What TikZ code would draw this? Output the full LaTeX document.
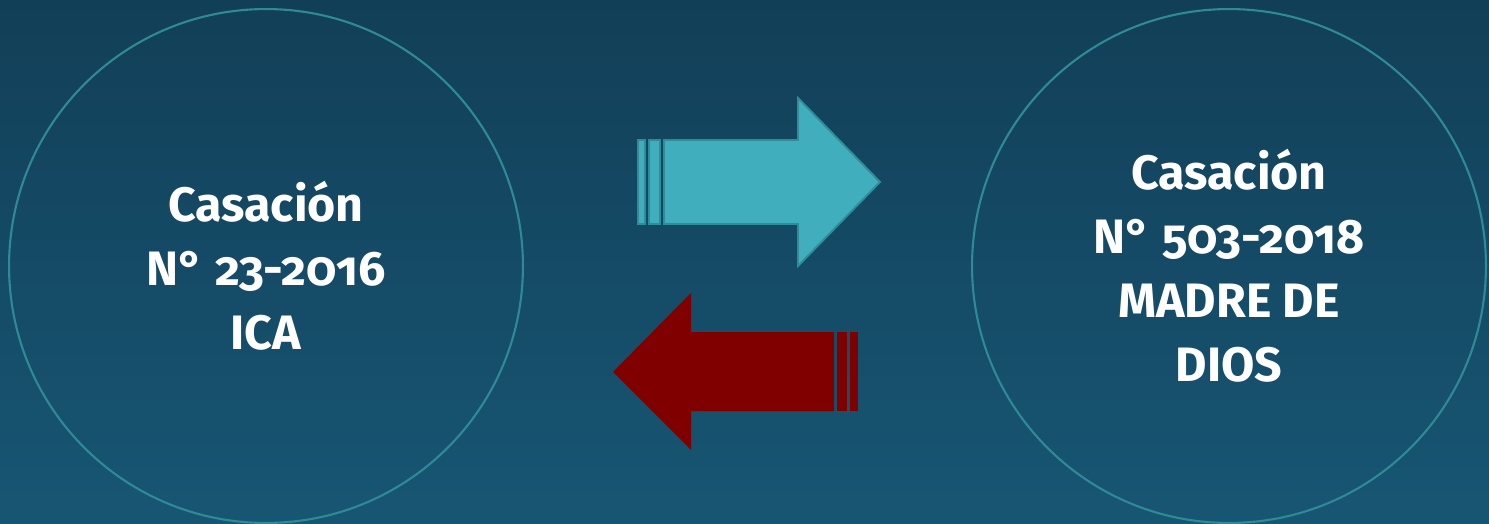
\documentclass[tikz,border=0pt]{standalone}
\usepackage{fontspec}
\setmainfont{Fira Sans}[Numbers=OldStyle]
\usetikzlibrary{positioning}

\definecolor{bgtop}{HTML}{123F58}
\definecolor{bgbottom}{HTML}{175673}
\definecolor{ringline}{HTML}{2E8A94}
\definecolor{tealfill}{HTML}{41AEBD}
\definecolor{tealline}{HTML}{2F8C99}
\definecolor{darkred}{HTML}{800000}

\begin{document}
\begin{tikzpicture}[
x=0.02cm, y=-0.02cm,
casebox/.style={circle, draw=ringline, line width=1.2pt, minimum size=10.28cm, align=center, text=white, font=\bfseries\fontsize{27.5}{36.4}\selectfont},
tealarrow/.style={fill=tealfill, draw=tealline, line width=1.1pt},
redarrow/.style={fill=darkred}
]

\useasboundingbox (0,0) rectangle (1489,524);
\fill[top color=bgtop, bottom color=bgbottom] (0,0) rectangle (1489,524);

\node[casebox] (ica) at (266,266) {Casación\\N° 23-2016\\ICA};
\node[casebox] (madre) at (1229,266) {Casación\\N° 503-2018\\MADRE DE\\DIOS};

% arrow to the right
\draw[tealarrow] (638,140) rectangle (645,224);
\draw[tealarrow] (649,140) rectangle (660,224);
\draw[tealarrow] (664,140) -- (798,140) -- (798,98) -- (880,182) -- (798,266) -- (798,224) -- (664,224) -- cycle;

% arrow to the left
\fill[redarrow] (834,332) -- (691,332) -- (691,293) -- (613,372) -- (691,450) -- (691,411) -- (834,411) -- cycle;
\fill[redarrow] (837,332) rectangle (847,411);
\fill[redarrow] (850,332) rectangle (858,411);

\end{tikzpicture}
\end{document}
